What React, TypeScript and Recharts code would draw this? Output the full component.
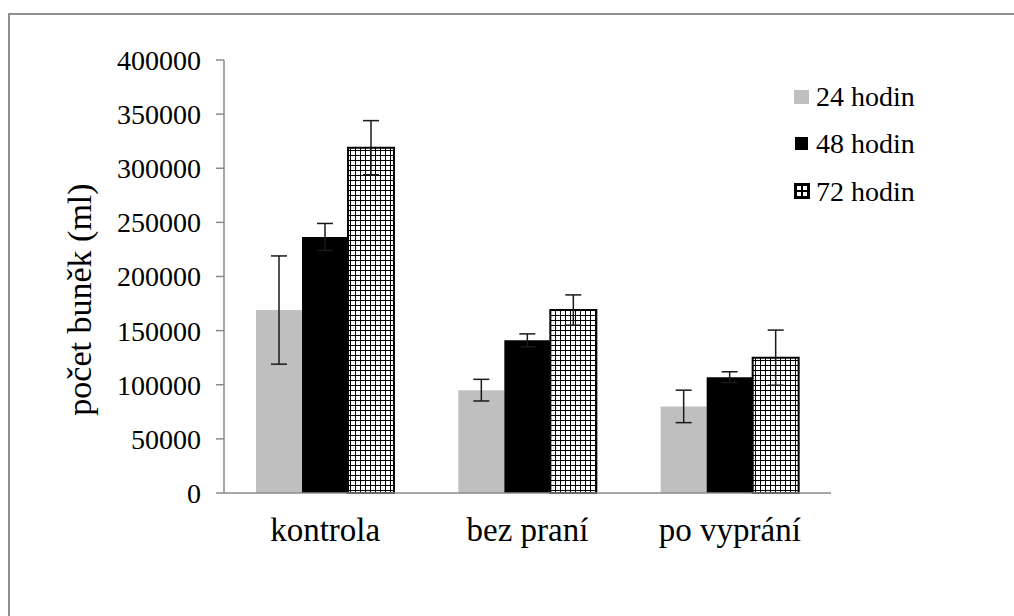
import { BarChart, Bar, XAxis, YAxis, ErrorBar, Legend } from "recharts";

const categories = ["kontrola", "bez praní", "po vyprání"];
const hours24 = [169000, 95000, 80000];
const hours24Err = [50000, 10000, 15000];
const hours48 = [236500, 141000, 107000];
const hours48Err = [12500, 6000, 5000];
const hours72 = [319000, 169000, 125000];
const hours72Err = [25000, 14000, 25500];
const yTicks = [0, 50000, 100000, 150000, 200000, 250000, 300000, 350000, 400000];

const series = [
  { key: "h24", name: "24 hodin", fill: "#bfbfbf" },
  { key: "h48", name: "48 hodin", fill: "#000000" },
  { key: "h72", name: "72 hodin", fill: "url(#gridHatch)" },
];

const data = categories.map((name, i) => ({
  name,
  h24: hours24[i],
  h24Err: hours24Err[i],
  h48: hours48[i],
  h48Err: hours48Err[i],
  h72: hours72[i],
  h72Err: hours72Err[i],
}));

const FONT = '"Liberation Serif", "Times New Roman", serif';
const AXIS = "#8a8a8a";

function LegendIcon({ k }: { k: string }) {
  if (k === "h24") {
    return (
      <svg width={16} height={16}>
        <rect x={0} y={1} width={15} height={14} fill="#bfbfbf" />
      </svg>
    );
  }
  if (k === "h48") {
    return (
      <svg width={16} height={16}>
        <rect x={1} y={1} width={13} height={13} fill="#000" />
      </svg>
    );
  }
  return (
    <svg width={16} height={16}>
      <rect x={0} y={0} width={16} height={16} fill="#000" />
      <rect x={3} y={3} width={4} height={4} fill="#fff" />
      <rect x={9} y={3} width={4} height={4} fill="#fff" />
      <rect x={3} y={9} width={4} height={4} fill="#fff" />
      <rect x={9} y={9} width={4} height={4} fill="#fff" />
    </svg>
  );
}

function renderLegend() {
  return (
    <div style={{ fontFamily: FONT, fontSize: 28, color: "#000" }}>
      {series.map((s) => (
        <div key={s.key} style={{ display: "flex", alignItems: "center", height: 47.3, lineHeight: "47px" }}>
          <LegendIcon k={s.key} />
          <span style={{ marginLeft: 6 }}>{s.name}</span>
        </div>
      ))}
    </div>
  );
}

function YTitle(props: any) {
  const vb = props.viewBox || { x: 0, y: 60, width: 224, height: 433 };
  const x = vb.x + 91;
  const y = vb.y + vb.height / 2 + 23;
  return (
    <text
      x={x}
      y={y}
      transform={`rotate(-90 ${x} ${y})`}
      textAnchor="middle"
      fontFamily={FONT}
      fontSize={34}
      fill="#000"
    >
      počet buněk (ml)
    </text>
  );
}

export default function App() {
  return (
    <div
      style={{
        position: "absolute",
        left: 0,
        top: 0,
        width: 1014,
        height: 616,
        overflow: "hidden",
        background: "#fff",
      }}
    >
      <div
        style={{
          position: "absolute",
          left: 8,
          top: 13,
          width: 2000,
          height: 2000,
          borderTop: "2px solid #8f8f8f",
          borderLeft: "2px solid #8f8f8f",
        }}
      />
      <div style={{ position: "absolute", left: 0, top: 0 }}>
        <BarChart
          width={1014}
          height={616}
          data={data}
          margin={{ top: 60, right: 183, bottom: 83, left: 0 }}
          barCategoryGap={32}
          barGap={0}
        >
          <defs>
            <pattern id="gridHatch" width={5} height={5} patternUnits="userSpaceOnUse">
              <rect x={0} y={0} width={5} height={5} fill="#000" />
              <rect x={1} y={1} width={4} height={4} fill="#fff" />
            </pattern>
          </defs>
          <XAxis
            dataKey="name"
            height={40}
            axisLine={{ stroke: AXIS, strokeWidth: 1.5 }}
            tickLine={false}
            tickSize={0}
            tickMargin={25}
            tick={{ fill: "#000", fontSize: 33, fontFamily: FONT }}
          />
          <YAxis
            width={224}
            domain={[0, 400000]}
            ticks={yTicks}
            interval={0}
            axisLine={{ stroke: AXIS, strokeWidth: 1.5 }}
            tickLine={{ stroke: AXIS, strokeWidth: 1.5 }}
            tickSize={8}
            tickMargin={15}
            tick={{ fill: "#000", fontSize: 28, fontFamily: FONT }}
            label={{ value: "počet buněk (ml)", content: YTitle }}
          />
          <Legend
            layout="vertical"
            align="center"
            verticalAlign="middle"
            wrapperStyle={{ top: 73, left: 794, width: 200, height: 150 }}
            content={renderLegend}
          />
          <Bar dataKey="h24" name="24 hodin" fill="#bfbfbf" isAnimationActive={false}>
            <ErrorBar dataKey="h24Err" width={8} stroke="#1a1a1a" strokeWidth={1.5} />
          </Bar>
          <Bar dataKey="h48" name="48 hodin" fill="#000000" isAnimationActive={false}>
            <ErrorBar dataKey="h48Err" width={8} stroke="#1a1a1a" strokeWidth={1.5} />
          </Bar>
          <Bar
            dataKey="h72"
            name="72 hodin"
            fill="url(#gridHatch)"
            stroke="#000"
            strokeWidth={2}
            isAnimationActive={false}
          >
            <ErrorBar dataKey="h72Err" width={8} stroke="#1a1a1a" strokeWidth={1.5} />
          </Bar>
        </BarChart>
      </div>
    </div>
  );
}
